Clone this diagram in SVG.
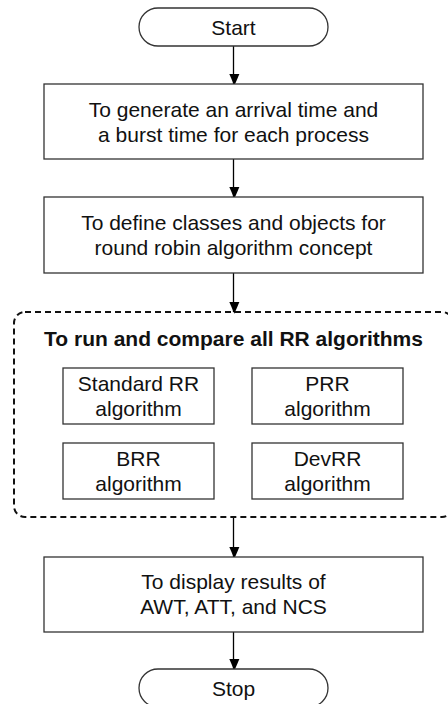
<svg xmlns="http://www.w3.org/2000/svg" width="448" height="704" viewBox="0 0 448 704">
<style>
.box{fill:#fff;stroke:#333;stroke-width:1.3}
.t{font-family:"Liberation Sans",Arial,sans-serif;font-size:21px;fill:#111;text-anchor:middle}
.tb{font-weight:bold}
.c{stroke:#000;stroke-width:1.3;fill:none}
</style>
<defs>
<marker id="ah" markerWidth="12" markerHeight="14" refX="12" refY="7" orient="auto" markerUnits="userSpaceOnUse" viewBox="0 0 14 12">
<path d="M0,0 L14,6 L0,12 Z" fill="#000"/>
</marker>
</defs>
<rect width="448" height="704" fill="#fff"/>
<g id="connectors">
<line class="c" x1="233.5" y1="46" x2="233.5" y2="84" marker-end="url(#ah)"/>
<line class="c" x1="233.5" y1="159" x2="233.5" y2="197" marker-end="url(#ah)"/>
<line class="c" x1="233.5" y1="273" x2="233.5" y2="312" marker-end="url(#ah)"/>
<line class="c" x1="233.5" y1="517" x2="233.5" y2="557" marker-end="url(#ah)"/>
<line class="c" x1="233.5" y1="632" x2="233.5" y2="669" marker-end="url(#ah)"/>
</g>
<g id="start">
<rect class="box" x="139" y="8" width="189" height="38" rx="19"/>
<text class="t" x="233.5" y="34.5">Start</text>
</g>
<g id="generate">
<rect class="box" x="44" y="84" width="379" height="75"/>
<text class="t" x="233.5" y="116.5">To generate an arrival time and</text>
<text class="t" x="233.5" y="141.5">a burst time for each process</text>
</g>
<g id="define">
<rect class="box" x="44" y="197" width="379" height="76"/>
<text class="t" x="233.5" y="230">To define classes and objects for</text>
<text class="t" x="233.5" y="255">round robin algorithm concept</text>
</g>
<g id="runcompare">
<rect x="14" y="312" width="439" height="205" rx="11" fill="none" stroke="#111" stroke-width="2" stroke-dasharray="6 4"/>
<text class="t tb" x="233.5" y="346">To run and compare all RR algorithms</text>
</g>
<g id="standardrr">
<rect class="box" x="63" y="368" width="151" height="56"/>
<text class="t" x="138.5" y="391">Standard RR</text>
<text class="t" x="138.5" y="416">algorithm</text>
</g>
<g id="prr">
<rect class="box" x="252" y="368" width="151" height="56"/>
<text class="t" x="327.5" y="391">PRR</text>
<text class="t" x="327.5" y="416">algorithm</text>
</g>
<g id="brr">
<rect class="box" x="63" y="443" width="151" height="56"/>
<text class="t" x="138.5" y="466">BRR</text>
<text class="t" x="138.5" y="491">algorithm</text>
</g>
<g id="devrr">
<rect class="box" x="252" y="443" width="151" height="56"/>
<text class="t" x="327.5" y="466">DevRR</text>
<text class="t" x="327.5" y="491">algorithm</text>
</g>
<g id="display">
<rect class="box" x="44" y="557" width="379" height="75"/>
<text class="t" x="233.5" y="589">To display results of</text>
<text class="t" x="233.5" y="614">AWT, ATT, and NCS</text>
</g>
<g id="stop">
<rect class="box" x="139" y="669" width="189" height="38" rx="19"/>
<text class="t" x="233.5" y="695.5">Stop</text>
</g>
</svg>
